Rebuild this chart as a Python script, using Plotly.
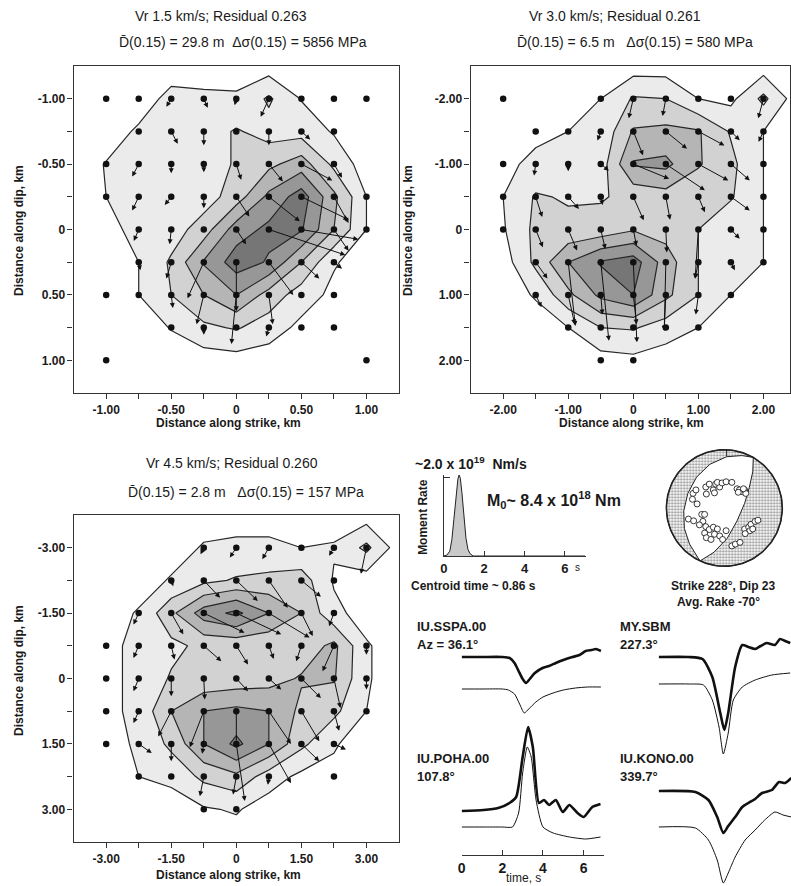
import numpy as np
import plotly.graph_objects as go

W, H = 791, 886
FONT = "Liberation Sans, Arial, sans-serif"

# ---------------------------------------------------------------- data
GRID = [-4, -3, -2, -1, 0, 1, 2, 3, 4]          # source grid index (9 x 9)
LEVELS = [0.1, 0.3, 0.5, 0.7, 0.9]                # relative slip contour levels

P1_STEP = 0.25
P1_TITLE = "Vr 1.5 km/s; Residual 0.263"
P1_SUB = "D\u0304(0.15) = 29.8 m  \u0394\u03c3(0.15) = 5856 MPa"
P1_TICKS = ["-1.00", "", "-0.50", "", "0", "", "0.50", "", "1.00"]
P1_SLIP = [
    [0.00, 0.00, 0.16, 0.14, 0.13, 0.33, 0.09, 0.00, 0.00],
    [0.00, 0.13, 0.18, 0.20, 0.32, 0.22, 0.22, 0.08, 0.00],
    [0.11, 0.15, 0.15, 0.15, 0.33, 0.45, 0.60, 0.25, 0.00],
    [0.10, 0.15, 0.15, 0.20, 0.40, 0.75, 1.00, 0.55, 0.10],
    [0.05, 0.15, 0.20, 0.40, 0.80, 0.95, 0.92, 0.50, 0.10],
    [0.00, 0.10, 0.33, 0.72, 1.00, 0.88, 0.50, 0.12, 0.00],
    [0.00, 0.10, 0.30, 0.50, 0.70, 0.42, 0.20, 0.05, 0.00],
    [0.00, 0.00, 0.11, 0.26, 0.32, 0.20, 0.05, 0.00, 0.00],
    [0.00, 0.00, 0.00, 0.00, 0.02, 0.00, 0.00, 0.00, 0.00],
]
P1_DOTS = [
    [1, 1, 1, 1, 1, 1, 1, 1, 1],
    [0, 1, 1, 1, 1, 1, 1, 1, 0],
    [1, 1, 1, 1, 1, 1, 1, 1, 0],
    [1, 1, 1, 1, 1, 1, 1, 1, 1],
    [0, 1, 1, 1, 1, 1, 1, 1, 1],
    [0, 1, 1, 1, 1, 1, 1, 1, 0],
    [1, 1, 1, 1, 1, 1, 1, 1, 0],
    [0, 0, 1, 1, 1, 1, 1, 1, 0],
    [1, 0, 0, 0, 0, 0, 0, 0, 1],
]
# (row, col, d_strike, d_dip) in grid steps
P1_ARROWS = [
    (0, 2, -0.15, 0.25), (0, 3, 0.12, 0.28), (0, 4, -0.05, 0.2), (0, 5, -0.25, 0.55),
    (1, 2, 0.2, 0.38), (1, 3, 0.0, 0.42), (1, 5, 0.0, 0.42), (1, 6, 0.27, 0.25),
    (2, 1, -0.2, 0.38), (2, 2, 0.0, 0.28), (2, 3, 0.0, 0.25), (2, 4, 0.15, 0.48),
    (2, 5, 0.43, 0.53), (2, 6, 0.95, 0.5), (2, 7, 0.25, 0.42),
    (3, 1, -0.2, 0.42), (3, 2, -0.2, 0.25), (3, 3, 0.0, 0.35), (3, 4, 0.4, 0.6),
    (3, 5, 0.95, 0.75), (3, 6, 1.45, 0.7), (3, 7, 0.45, 0.8),
    (4, 1, -0.15, 0.35), (4, 2, -0.05, 0.45), (4, 4, 0.3, 0.45), (4, 5, 2.35, 0.78),
    (4, 6, 1.75, 0.3), (4, 7, 0.45, 0.65),
    (5, 1, 0.05, 0.25), (5, 2, -0.15, 0.5), (5, 3, -0.5, 1.1), (5, 4, 0.0, 1.5),
    (5, 5, 0.75, 1.0), (5, 6, 0.55, 0.5), (5, 7, 0.25, 0.2),
    (6, 2, 0.05, 0.4), (6, 3, -0.22, 0.9), (6, 4, -0.15, 1.5), (6, 5, 0.12, 0.9),
    (7, 3, 0.0, 0.22), (7, 5, -0.08, 0.27),
]

P2_STEP = 0.5
P2_TITLE = "Vr 3.0 km/s; Residual 0.261"
P2_SUB = "D\u0304(0.15) = 6.5 m   \u0394\u03c3(0.15) = 580 MPa"
P2_TICKS = ["-2.00", "", "-1.00", "", "0", "", "1.00", "", "2.00"]
P2_SLIP = [
    [0.00, 0.00, 0.00, 0.10, 0.32, 0.30, 0.10, 0.05, 0.35],
    [0.00, 0.05, 0.10, 0.15, 0.52, 0.55, 0.52, 0.28, 0.10],
    [0.05, 0.15, 0.15, 0.20, 0.72, 0.75, 0.52, 0.35, 0.10],
    [0.10, 0.32, 0.28, 0.28, 0.36, 0.42, 0.36, 0.32, 0.10],
    [0.08, 0.35, 0.35, 0.38, 0.48, 0.42, 0.30, 0.15, 0.10],
    [0.00, 0.35, 0.70, 0.92, 1.00, 0.60, 0.30, 0.15, 0.10],
    [0.00, 0.12, 0.45, 0.75, 0.90, 0.55, 0.30, 0.10, 0.00],
    [0.00, 0.00, 0.10, 0.30, 0.32, 0.20, 0.10, 0.00, 0.00],
    [0.00, 0.00, 0.00, 0.02, 0.05, 0.00, 0.00, 0.00, 0.00],
]
P2_DOTS = [
    [1, 0, 0, 1, 1, 1, 1, 1, 1],
    [0, 1, 1, 1, 1, 1, 1, 1, 1],
    [1, 1, 1, 1, 1, 1, 1, 1, 1],
    [1, 1, 1, 1, 1, 1, 1, 1, 1],
    [1, 1, 1, 1, 1, 1, 1, 1, 1],
    [0, 1, 1, 1, 1, 1, 1, 1, 1],
    [0, 1, 1, 1, 1, 1, 1, 1, 0],
    [0, 0, 1, 1, 1, 1, 1, 0, 0],
    [0, 0, 0, 1, 1, 0, 0, 0, 0],
]
P2_ARROWS = [
    (0, 4, -0.14, 0.6), (0, 5, -0.1, 0.53), (0, 8, -0.16, 0.6),
    (1, 3, -0.1, 0.28), (1, 4, 0.3, 0.73), (1, 5, 0.65, 0.53), (1, 6, 0.8, 0.43),
    (1, 7, 0.27, 0.27), (1, 8, -0.15, 0.32),
    (2, 1, -0.05, 0.35), (2, 2, 0.0, 0.22), (2, 3, 0.25, 0.2), (2, 4, 1.1, 0.45),
    (2, 5, 1.2, 0.8), (2, 6, 0.92, 0.5), (2, 7, 0.58, 0.5),
    (3, 1, 0.2, 0.62), (3, 2, 0.33, 0.37), (3, 3, 0.06, 0.25), (3, 4, 0.32, 0.72),
    (3, 5, 0.13, 0.7), (3, 6, 0.2, 0.47), (3, 7, 0.58, 0.42),
    (4, 1, 0.22, 0.54), (4, 2, 0.27, 0.64), (4, 3, 0.14, 0.6), (4, 4, 0.1, 0.5),
    (4, 5, 0.03, 0.7), (4, 6, -0.1, 1.5), (4, 7, 0.27, 0.28),
    (5, 1, 0.36, 0.5), (5, 2, 0.22, 1.95), (5, 3, 0.25, 2.4), (5, 4, 0.11, 2.45),
    (5, 5, -0.05, 2.1), (5, 6, -0.1, 0.5), (5, 7, 0.12, 0.25),
    (6, 1, 0.18, 0.38), (6, 2, 0.2, 0.9), (6, 3, 0.05, 0.6), (6, 4, 0.1, 0.9),
    (6, 5, -0.05, 1.1), (6, 6, -0.08, 0.6),
]

P3_STEP = 0.75
P3_TITLE = "Vr 4.5 km/s; Residual 0.260"
P3_SUB = "D\u0304(0.15) = 2.8 m   \u0394\u03c3(0.15) = 157 MPa"
P3_TICKS = ["-3.00", "", "-1.50", "", "0", "", "1.50", "", "3.00"]
P3_SLIP = [
    [0.00, 0.00, 0.00, 0.12, 0.15, 0.15, 0.10, 0.12, 0.35],
    [0.00, 0.00, 0.12, 0.25, 0.32, 0.35, 0.40, 0.08, 0.00],
    [0.00, 0.12, 0.45, 0.80, 0.95, 0.70, 0.50, 0.15, 0.02],
    [0.05, 0.15, 0.25, 0.35, 0.35, 0.35, 0.38, 0.55, 0.12],
    [0.05, 0.15, 0.32, 0.35, 0.38, 0.42, 0.52, 0.52, 0.12],
    [0.05, 0.15, 0.50, 0.70, 0.75, 0.70, 0.45, 0.35, 0.10],
    [0.05, 0.12, 0.35, 0.70, 0.95, 0.70, 0.35, 0.12, 0.00],
    [0.00, 0.10, 0.15, 0.35, 0.45, 0.20, 0.05, 0.05, 0.00],
    [0.00, 0.00, 0.00, 0.08, 0.12, 0.00, 0.00, 0.00, 0.00],
]
P3_DOTS = [
    [0, 0, 0, 1, 1, 1, 1, 1, 1],
    [0, 0, 1, 1, 1, 1, 1, 1, 0],
    [0, 1, 1, 1, 1, 1, 1, 1, 0],
    [1, 1, 1, 1, 1, 1, 1, 1, 1],
    [1, 1, 1, 1, 1, 1, 1, 1, 1],
    [1, 1, 1, 1, 1, 1, 1, 1, 1],
    [1, 1, 1, 1, 1, 1, 1, 1, 0],
    [0, 1, 1, 1, 1, 1, 0, 1, 0],
    [0, 0, 0, 1, 1, 0, 0, 0, 0],
]
P3_ARROWS = [
    (0, 3, -0.1, 0.2), (0, 4, -0.2, 0.3), (0, 5, -0.2, 0.35), (0, 7, -0.15, 0.25),
    (0, 8, -0.17, 0.8),
    (1, 2, 0.06, 0.18), (1, 3, 0.5, 0.53), (1, 4, 0.66, 0.63), (1, 5, 0.58, 0.84),
    (1, 6, 0.6, 0.5),
    (2, 1, -0.16, 0.35), (2, 2, 0.37, 0.65), (2, 3, 1.25, 0.6), (2, 4, 1.38, 0.65),
    (2, 5, 1.25, 0.75), (2, 6, 0.35, 0.7), (2, 7, -0.15, 0.4),
    (3, 1, -0.16, 0.37), (3, 2, 0.1, 0.42), (3, 3, 0.54, 0.47), (3, 4, 0.36, 0.57),
    (3, 5, 0.15, 0.4), (3, 6, -0.16, 0.47), (3, 7, -0.35, 0.78), (3, 8, 0.0, 0.27),
    (4, 1, -0.16, 0.39), (4, 2, 0.0, 0.54), (4, 3, 0.03, 0.64), (4, 4, 0.36, 0.39),
    (4, 5, 0.38, 0.34), (4, 6, 0.6, 0.6), (4, 7, 0.2, 0.9), (4, 8, 0.0, 0.34),
    (5, 1, -0.16, 0.36), (5, 2, -0.4, 0.77), (5, 3, -0.43, 1.1), (5, 4, 0.0, 1.1),
    (5, 5, 0.68, 1.0), (5, 6, 0.55, 0.92), (5, 7, 0.16, 0.6),
    (6, 1, 0.4, 0.28), (6, 2, 0.0, 0.53), (6, 3, -0.05, 0.3), (6, 4, 0.26, 1.75),
    (6, 5, 0.68, 1.2), (6, 6, 0.55, 0.53), (6, 7, 0.37, 0.17),
    (7, 3, -0.12, 0.6), (7, 4, -0.1, 0.55), (7, 5, -0.03, 0.25),
]

# moment-rate function (time s, rate relative to ~2.0e19 Nm/s)
MRF_T = [0.0, 0.15, 0.3, 0.4, 0.5, 0.6, 0.7, 0.76, 0.82, 0.9, 1.0, 1.1, 1.2, 1.3, 1.45, 3.0, 5.0, 7.0]
MRF_RATE = [0.0, 0.01, 0.06, 0.2, 0.45, 0.75, 0.95, 1.0, 0.96, 0.78, 0.48, 0.22, 0.08, 0.03, 0.0, 0.0, 0.0, 0.0]
MRF_TICKS = [0, 2, 4, 6]

# focal mechanism (unit-circle projection)
ARC1_U = [0.50, 0.30, 0.04, -0.25, -0.48, -0.63, -0.70, -0.69, -0.60, -0.42]
ARC1_V = [0.87, 0.90, 0.88, 0.75, 0.53, 0.25, -0.05, -0.35, -0.62, -0.91]
ARC2_U = [0.50, 0.49, 0.43, 0.35, 0.22, 0.05, -0.18, -0.42]
ARC2_V = [0.87, 0.62, 0.35, 0.08, -0.22, -0.52, -0.76, -0.91]
BAXIS_U = [0.04, 0.04]
BAXIS_V = [0.885, 1.0]
STA_U = [-0.54, -0.49, -0.55, -0.47, -0.32, -0.26, -0.31, -0.19, -0.15, -0.08, -0.12, -0.04,
         0.03, 0.13, -0.17, 0.22, 0.26, 0.31, 0.35, 0.37, 0.24, 0.33,
         -0.62, -0.53, -0.39, -0.34, -0.37, -0.43, -0.32, -0.26, -0.34, -0.19, -0.12, -0.17,
         -0.08, -0.03, 0.03, -0.31, -0.23, 0.35, 0.42, 0.46, 0.53, 0.58, 0.44, 0.36, 0.49,
         0.13, 0.19, 0.27]
STA_V = [0.25, 0.31, 0.15, 0.07, 0.36, 0.41, 0.24, 0.31, 0.41, 0.36, 0.44, 0.43,
         0.45, 0.44, 0.26, 0.33, 0.31, 0.28, 0.31, 0.25, 0.27, 0.33,
         -0.19, -0.22, -0.11, -0.11, -0.23, -0.29, -0.32, -0.37, -0.43, -0.33, -0.36, -0.45,
         -0.48, -0.54, -0.39, -0.51, -0.54, -0.36, -0.33, -0.28, -0.23, -0.21, -0.39, -0.44, -0.36,
         -0.65, -0.62, -0.59]

# waveforms: time (s) and amplitude (arbitrary units, up positive)
SSPA_OBS_T = [0, 1, 2, 2.36, 2.6, 2.8, 3.0, 3.17, 3.35, 3.6, 3.98, 4.3, 4.63, 5.0, 5.45, 5.8, 6.1, 6.4, 6.6, 6.85]
SSPA_OBS_A = [0, 0, 0, -1, -6, -14, -22, -26, -22, -16, -11, -9, -6, -3, 0, 2, 6, 7, 8, 6]
SSPA_SYN_T = [0, 1, 2, 2.3, 2.6, 2.85, 3.08, 3.3, 3.65, 4.0, 4.5, 5.0, 5.6, 6.2, 6.85]
SSPA_SYN_A = [0, 0, 0, -1, -5, -15, -24, -20, -13, -8, -4, -1, 1, 2, 2]
POHA_OBS_T = [0, 1.07, 1.8, 2.35, 2.68, 3.0, 3.27, 3.5, 3.8, 4.05, 4.3, 4.63, 4.97, 5.3, 5.7, 6.0, 6.43, 6.83]
POHA_OBS_A = [0, 1, 3, 8, 14, 54, 84, 64, 8, 11, 6, 11, -1, 6, -2, -6, 4, 7]
POHA_SYN_T = [0, 1, 2, 2.5, 2.8, 3.0, 3.23, 3.42, 3.66, 4.0, 4.5, 5.3, 6.1, 6.83]
POHA_SYN_A = [0, 0, 0, 0, 14, 54, 80, 70, 27, 0, -6, -10, -12, -10]
SBM_OBS_T = [0, 1.46, 2.15, 2.63, 3.02, 3.22, 3.41, 3.75, 4.1, 4.4, 4.73, 5.0, 5.3, 5.7, 5.95, 6.2, 6.45]
SBM_OBS_A = [0, 0, -2, -20, -56, -73, -56, -10, 12, 10, 8, 11, 14, 12, 18, 16, 14]
SBM_SYN_T = [0, 1.5, 2.2, 2.63, 2.96, 3.17, 3.41, 3.66, 4.1, 4.73, 5.55, 6.45]
SBM_SYN_A = [0, 0, -1, -16, -43, -70, -49, -16, -3, 4, 9, 11]
KONO_OBS_T = [0, 1.8, 2.44, 2.87, 3.17, 3.41, 3.75, 4.1, 4.4, 4.73, 5.07, 5.55, 5.9, 6.2, 6.5]
KONO_OBS_A = [0, -1, -9, -26, -42, -35, -26, -16, -12, -8, -2, 1, 9, 8, 13]
KONO_SYN_T = [0, 1.8, 2.44, 2.87, 3.17, 3.41, 3.75, 4.24, 4.73, 5.2, 5.7, 6.1, 6.5]
KONO_SYN_A = [0, -1, -13, -33, -56, -46, -30, -13, -3, 7, 15, 12, 10]
WAVE_TICKS = [0, 2, 4, 6]

# ---------------------------------------------------------------- helpers
def fx(p):
    return p / W


def fy(p):
    return 1 - p / H


CS = [[0, "#ffffff"], [0.1, "#ffffff"], [0.1, "#ebebeb"], [0.3, "#ebebeb"],
      [0.3, "#d2d2d2"], [0.5, "#d2d2d2"], [0.5, "#b5b5b5"], [0.7, "#b5b5b5"],
      [0.7, "#979797"], [0.9, "#979797"], [0.9, "#767676"], [1.0, "#767676"]]

fig = go.Figure()
annotations = []
layout_axes = {}
TICKFONT = dict(family=FONT, size=12, color="#1a1a1a", weight="bold")


def text(x, y, s, size=12, bold=True, xanchor="center", angle=0, color="#1a1a1a"):
    annotations.append(dict(
        x=fx(x), y=fy(y), xref="paper", yref="paper", text=s, showarrow=False,
        xanchor=xanchor, yanchor="middle", textangle=angle,
        font=dict(family=FONT, size=size, color=color, weight="bold" if bold else "normal")))


def add_panel(n, slip, dots, arrows, step, ticks, dx_px, dy_px):
    xa, ya = ("x", "y") if n == 1 else (f"x{n}", f"y{n}")
    lim = 5 * step
    coords = np.arange(-5, 6) * step
    z = np.pad(np.array(slip, dtype=float), 1)
    fig.add_trace(go.Contour(
        x=coords, y=coords, z=z, xaxis=xa, yaxis=ya, showscale=False,
        autocontour=False,
        contours=dict(start=LEVELS[0], end=LEVELS[-1], size=LEVELS[1] - LEVELS[0], coloring="fill"),
        colorscale=CS, line=dict(color="#262626", width=1.2, smoothing=0),
        hoverinfo="skip"))
    gx, gy = [], []
    for r in range(9):
        for c in range(9):
            if dots[r][c]:
                gx.append(GRID[c] * step)
                gy.append(GRID[r] * step)
    for (r, c, ddx, ddy) in arrows:
        x0, y0 = GRID[c] * step, GRID[r] * step
        annotations.append(dict(
            x=x0 + ddx * step, y=y0 + ddy * step, ax=x0, ay=y0,
            xref=xa, yref=ya, axref=xa, ayref=ya, text="", showarrow=True,
            arrowhead=2, arrowsize=1.0, arrowwidth=1.0, arrowcolor="#111", standoff=0))
    fig.add_trace(go.Scatter(x=gx, y=gy, mode="markers", xaxis=xa, yaxis=ya,
                             marker=dict(size=6.5, color="#111"), hoverinfo="skip"))
    tv = [g * step for g in GRID]
    common = dict(tickvals=tv, ticktext=ticks, ticks="outside", ticklen=5, tickwidth=1,
                  tickcolor="#333", showline=True, linecolor="#333", linewidth=1.3,
                  mirror=True, showgrid=False, zeroline=False, tickfont=TICKFONT)
    x_right = -lim + (dx_px[1] - dx_px[0]) / (327.0 / (2 * lim))
    key = "" if n == 1 else str(n)
    layout_axes["xaxis" + key] = dict(domain=[fx(dx_px[0]), fx(dx_px[1])],
                                      range=[-lim, x_right], anchor=ya, **common)
    layout_axes["yaxis" + key] = dict(domain=[fy(dy_px[1]), fy(dy_px[0])],
                                      range=[lim, -lim], anchor=xa, **common)


add_panel(1, P1_SLIP, P1_DOTS, P1_ARROWS, P1_STEP, P1_TICKS, (70, 397), (66, 393))
add_panel(2, P2_SLIP, P2_DOTS, P2_ARROWS, P2_STEP, P2_TICKS, (469, 790), (66, 393))
add_panel(3, P3_SLIP, P3_DOTS, P3_ARROWS, P3_STEP, P3_TICKS, (70, 397), (515, 842))

# titles and axis labels
text(218, 16, P1_TITLE, size=14, bold=False)
text(240, 42, P1_SUB, size=14, bold=False)
text(614, 16, P2_TITLE, size=14, bold=False)
text(634, 42, P2_SUB, size=14, bold=False)
text(229, 463, P3_TITLE, size=14, bold=False)
text(243, 492, P3_SUB, size=14, bold=False)
for (x, y) in [(226, 423), (631, 423), (226, 875)]:
    text(x, y, "Distance along strike, km", size=12)
for (x, y) in [(15, 230), (406, 230), (15, 670)]:
    text(x, y, "Distance along dip, km", size=12, angle=-90)

# ---------------------------------------------------------------- moment rate
fig.add_trace(go.Scatter(x=MRF_T, y=MRF_RATE, xaxis="x4", yaxis="y4", mode="lines",
                         fill="tozeroy", fillcolor="#c9c9c9",
                         line=dict(color="#222", width=1), hoverinfo="skip"))
layout_axes["xaxis4"] = dict(domain=[fx(442), fx(585)], range=[0, 7.05], anchor="y4",
                             tickvals=MRF_TICKS, ticktext=[str(t) for t in MRF_TICKS],
                             ticks="inside", ticklen=5, tickcolor="#333", showline=True,
                             linecolor="#333", linewidth=1.2, showgrid=False, zeroline=False,
                             tickfont=dict(family=FONT, size=13, color="#1a1a1a", weight="bold"))
layout_axes["yaxis4"] = dict(domain=[fy(556), fy(475)], range=[0, 1.0], anchor="x4",
                             tickvals=[0.975], ticks="inside", ticklen=6, tickcolor="#333",
                             showticklabels=False, showline=True, linecolor="#333",
                             linewidth=1.2, showgrid=False, zeroline=False)
text(469, 463, "~2.0 x 10<sup>19</sup>  Nm/s", size=14)
text(553, 500, "M<sub>0</sub>~ 8.4 x 10<sup>18</sup> Nm", size=16)
text(421, 517, "Moment Rate", size=12, angle=-90)
text(572, 567, "s", size=10, bold=False, xanchor="left")
text(472, 586, "Centroid time ~ 0.86 s", size=12)

# ---------------------------------------------------------------- focal mechanism
a_top = np.degrees(np.arctan2(ARC1_V[0], ARC1_U[0]))
a_bot = np.degrees(np.arctan2(ARC1_V[-1], ARC1_U[-1])) % 360
left_ang = np.radians(np.linspace(a_bot, a_top, 80))
right_ang = np.radians(np.linspace(a_bot, a_top + 360, 80))
for (au, av, ang) in [(ARC1_U, ARC1_V, left_ang), (ARC2_U, ARC2_V, right_ang)]:
    px = list(au) + list(np.cos(ang))
    py = list(av) + list(np.sin(ang))
    fig.add_trace(go.Scatter(x=px, y=py, xaxis="x5", yaxis="y5", mode="lines",
                             fill="toself", fillcolor="rgba(0,0,0,0)",
                             fillpattern=dict(shape=".", size=3, solidity=0.45,
                                              fgcolor="#333", bgcolor="#ffffff"),
                             line=dict(color="#222", width=1), hoverinfo="skip"))
full = np.radians(np.linspace(0, 360, 181))
fig.add_trace(go.Scatter(x=np.cos(full), y=np.sin(full), xaxis="x5", yaxis="y5", mode="lines",
                         line=dict(color="#222", width=1.6), hoverinfo="skip"))
fig.add_trace(go.Scatter(x=BAXIS_U, y=BAXIS_V, xaxis="x5", yaxis="y5", mode="lines",
                         line=dict(color="#222", width=1), hoverinfo="skip"))
fig.add_trace(go.Scatter(x=STA_U, y=STA_V, xaxis="x5", yaxis="y5", mode="markers",
                         marker=dict(size=6, color="#ffffff", line=dict(color="#222", width=0.9)),
                         hoverinfo="skip"))
layout_axes["xaxis5"] = dict(domain=[fx(664), fx(784)], range=[-1.03, 1.03], visible=False,
                             anchor="y5")
layout_axes["yaxis5"] = dict(domain=[fy(568), fy(448)], range=[-1.03, 1.03], visible=False,
                             anchor="x5")
text(668, 586, "Strike 228\u00b0, Dip 23", size=12, xanchor="left")
text(718, 602, "Avg. Rake -70\u00b0", size=12)

# ---------------------------------------------------------------- waveforms
BASE = {"SSPA_OBS": 657, "SSPA_SYN": 689, "POHA_OBS": 811, "POHA_SYN": 827,
        "SBM_OBS": 657, "SBM_SYN": 684, "KONO_OBS": 791, "KONO_SYN": 827}
waves = [("x6", "y6", SSPA_OBS_T, SSPA_OBS_A, BASE["SSPA_OBS"], 2.6),
         ("x6", "y6", SSPA_SYN_T, SSPA_SYN_A, BASE["SSPA_SYN"], 1.0),
         ("x6", "y6", POHA_OBS_T, POHA_OBS_A, BASE["POHA_OBS"], 2.6),
         ("x6", "y6", POHA_SYN_T, POHA_SYN_A, BASE["POHA_SYN"], 1.0),
         ("x7", "y7", SBM_OBS_T, SBM_OBS_A, BASE["SBM_OBS"], 2.6),
         ("x7", "y7", SBM_SYN_T, SBM_SYN_A, BASE["SBM_SYN"], 1.0),
         ("x7", "y7", KONO_OBS_T, KONO_OBS_A, BASE["KONO_OBS"], 2.6),
         ("x7", "y7", KONO_SYN_T, KONO_SYN_A, BASE["KONO_SYN"], 1.0)]
for (xa, ya, t, a, base, w) in waves:
    fig.add_trace(go.Scatter(x=t, y=[(H - base) + v for v in a], xaxis=xa, yaxis=ya,
                             mode="lines", line=dict(color="#111", width=w, shape="spline",
                                                     smoothing=0.6),
                             hoverinfo="skip"))
layout_axes["xaxis6"] = dict(domain=[fx(460), fx(603)], range=[0, 7], anchor="free",
                             position=(H - 855) / H, tickvals=WAVE_TICKS,
                             ticktext=[str(t) for t in WAVE_TICKS], ticks="inside", ticklen=5,
                             tickcolor="#333", showline=True, linecolor="#333", linewidth=1.2,
                             showgrid=False, zeroline=False,
                             tickfont=dict(family=FONT, size=14, color="#1a1a1a", weight="bold"))
layout_axes["yaxis6"] = dict(domain=[0, fy(600)], range=[0, H - 600], visible=False,
                             anchor="x6")
layout_axes["xaxis7"] = dict(domain=[fx(658), 1.0], range=[0, (W - 658) / 20.5],
                             visible=False, anchor="y7")
layout_axes["yaxis7"] = dict(domain=[0, fy(600)], range=[0, H - 600], visible=False,
                             anchor="x7")
text(522, 878, "time, s", size=12, bold=False)
text(413, 626, "IU.SSPA.00", size=13, xanchor="left")
text(413, 644, "Az = 36.1\u00b0", size=13, xanchor="left")
text(617, 626, "MY.SBM", size=13, xanchor="left")
text(617, 644, "227.3\u00b0", size=13, xanchor="left")
text(413, 758, "IU.POHA.00", size=13, xanchor="left")
text(413, 776, "107.8\u00b0", size=13, xanchor="left")
text(617, 758, "IU.KONO.00", size=13, xanchor="left")
text(617, 776, "339.7\u00b0", size=13, xanchor="left")

fig.update_layout(
    width=W, height=H, margin=dict(l=0, r=0, t=0, b=0),
    paper_bgcolor="white", plot_bgcolor="white", showlegend=False,
    annotations=annotations, **layout_axes)
fig.write_html("out.html")
